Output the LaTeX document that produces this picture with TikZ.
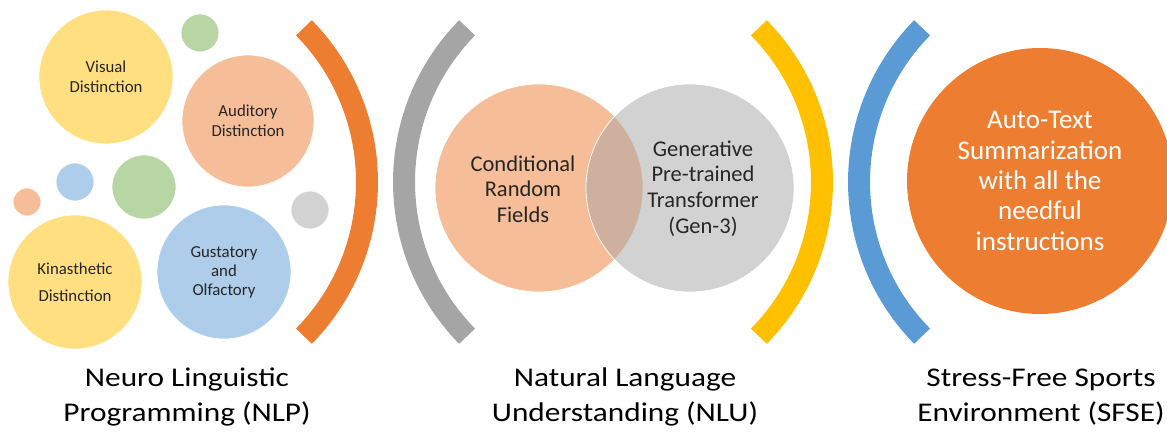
\documentclass[tikz,border=0pt]{standalone}
\usepackage{graphicx}
\usepackage{fontspec}
\setmainfont{Carlito}

\definecolor{orangeC}{HTML}{ED7D31}
\definecolor{grayC}{HTML}{A5A5A5}
\definecolor{goldC}{HTML}{FFC000}
\definecolor{blueC}{HTML}{5B9BD5}
\definecolor{greenC}{HTML}{70AD47}
\definecolor{inkC}{HTML}{262626}

\newcommand{\stretchlabel}[1]{\scalebox{1.16}[1]{#1}}

\begin{document}
\begin{tikzpicture}[x=1pt,y=1pt,
  bubble/.style={circle, inner sep=0pt, draw=white, line width=0.7pt,
    fill opacity=0.5, text opacity=1, align=center, text=inkC},
  smalltext/.style={font=\fontsize{16.8}{20}\selectfont},
  venntext/.style={align=center, text=inkC, inner sep=0pt,
    font=\fontsize{22.5}{25.6}\selectfont},
  bracket/.style={line width=22pt, line cap=butt},
  caption/.style={anchor=base, inner sep=0pt, text=black,
    font=\fontsize{27}{35}\selectfont},
]
\clip (0,0) rectangle (1167,431);

% ---- sensory bubbles ----
\node[bubble, fill=greenC,  minimum size=38pt]  (gtop)   at (200,398) {};
\node[bubble, fill=blueC,   minimum size=38pt]  (bsmall) at (75,249) {};
\node[bubble, fill=greenC,  minimum size=64pt]  (gmid)   at (144,244) {};
\node[bubble, fill=orangeC, minimum size=28pt]  (ptiny)  at (27,229) {};
\node[bubble, fill=grayC,   minimum size=38pt]  (gsmall) at (310,221) {};
\node[bubble, smalltext, fill=goldC, minimum size=134pt] (visual) at (106,354) {Visual\\Distinction};
\node[bubble, smalltext, fill=orangeC, minimum size=132pt] (audit) at (248,310) {Auditory\\Distinction};
\node[bubble, font=\fontsize{16.8}{27}\selectfont, fill=goldC, minimum size=134pt] (kin) at (75,149) {Kinasthetic\\Distinction};
\node[bubble, font=\fontsize{16.8}{19}\selectfont, fill=blueC, minimum size=134pt] (gust) at (224,159) {Gustatory\\and\\Olfactory};

% ---- brackets ----
\coordinate (c1) at (147,249);
\coordinate (c2) at (624,249);
\coordinate (c3) at (602,249);
\coordinate (c4) at (1079,249);
\draw[bracket, orangeC] (c1) ++(-44.5:220) arc[start angle=-44.5, end angle=44.5, radius=220];
\draw[bracket, grayC]   (c2) ++(135.5:220) arc[start angle=135.5, end angle=224.5, radius=220];
\draw[bracket, goldC]   (c3) ++(-44.5:220) arc[start angle=-44.5, end angle=44.5, radius=220];
\draw[bracket, blueC]   (c4) ++(135.5:220) arc[start angle=135.5, end angle=224.5, radius=220];

% ---- Venn pair ----
\node[bubble, fill=orangeC, minimum size=208pt] (crf) at (539,243) {};
\node[bubble, fill=grayC,   minimum size=208pt] (gpt) at (690,243) {};
\node[venntext] (crftext) at (523,242) {Conditional\\Random\\Fields};
\node[venntext] (gpttext) at (703,242.5) {Generative\\Pre-trained\\Transformer\\(Gen-3)};

% ---- outcome ----
\node[circle, inner sep=0pt, fill=orangeC, minimum size=266pt, text=white,
  align=center, font=\fontsize{27}{30.3}\selectfont] (auto) at (1040,250)
  {Auto-Text\\Summarization\\with all the\\needful\\instructions};

% ---- captions ----
\node[caption] (nlp) at (187,44) {\stretchlabel{\begin{tabular}[t]{@{}c@{}}Neuro Linguistic\\Programming (NLP)\end{tabular}}};
\node[caption] (nlu) at (625,44) {\stretchlabel{\begin{tabular}[t]{@{}c@{}}Natural Language\\Understanding (NLU)\end{tabular}}};
\node[caption] (sfse) at (1041,44) {\stretchlabel{\begin{tabular}[t]{@{}c@{}}Stress-Free Sports\\Environment (SFSE)\end{tabular}}};
\end{tikzpicture}
\end{document}
